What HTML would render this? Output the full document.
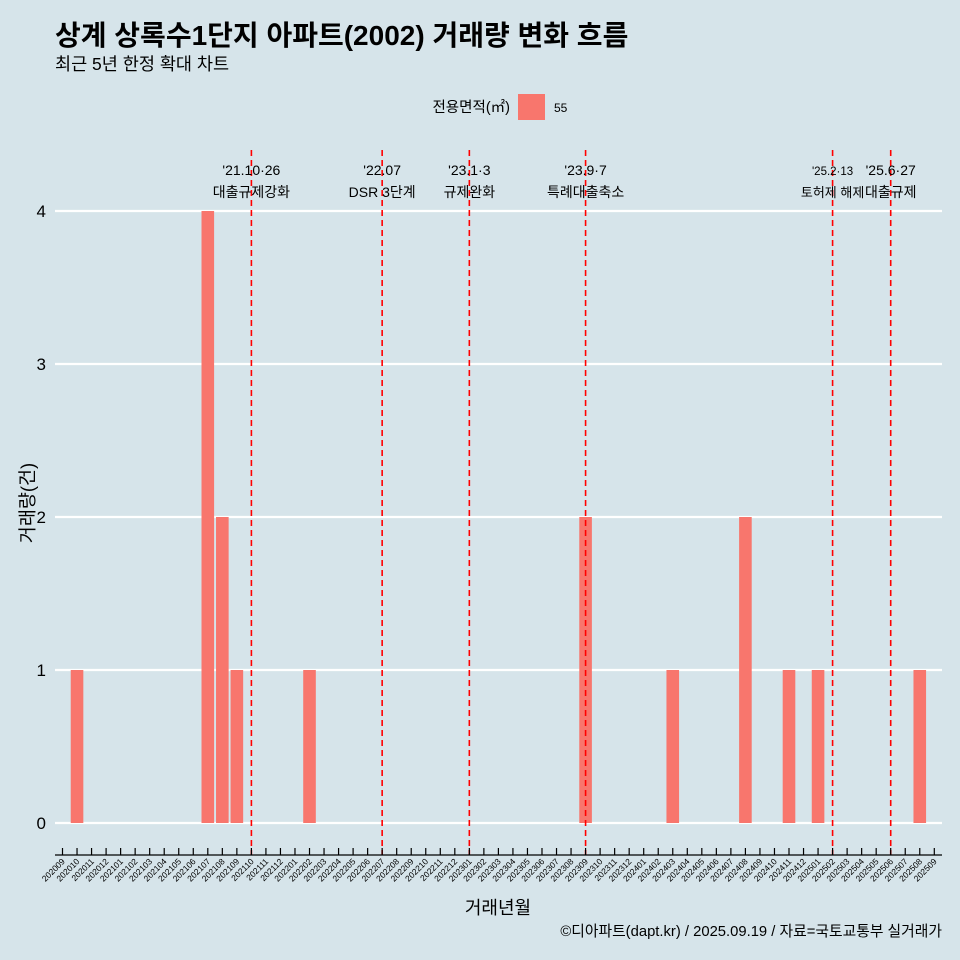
<!DOCTYPE html>
<html><head><meta charset="utf-8"><style>
body{margin:0;background:#d6e4ea;}
svg{display:block;font-family:"Liberation Sans","Noto Sans CJK KR",sans-serif;}
</style></head><body>
<svg width="960" height="960">
<rect width="960" height="960" fill="#d6e4ea"/>
<text x="55" y="45" font-size="28" font-weight="bold" fill="#000">상계 상록수1단지 아파트(2002) 거래량 변화 흐름</text>
<text x="55" y="70" font-size="17.5" fill="#000">최근 5년 한정 확대 차트</text>
<g>
<text x="510" y="112" font-size="14.5" text-anchor="end">전용면적(㎡)</text>
<rect x="518" y="94" width="27" height="26" fill="#f8766d"/>
<text x="554" y="112" font-size="12">55</text>
</g>
<g id="grid"></g><g id="bars"></g><g id="events"></g><g id="axes"></g>
<text x="34" y="503" font-size="18.5" text-anchor="middle" transform="rotate(-90 34 503)">거래량(건)</text>
<text x="498" y="914" font-size="18" text-anchor="middle">거래년월</text>
<text x="942" y="936" font-size="14.8" text-anchor="end">©디아파트(dapt.kr) / 2025.09.19 / 자료=국토교통부 실거래가</text>
</svg>
<script>
const months=[];for(let y=2020,m=9;y<2025||(y===2025&&m<=9);){months.push(y+String(m).padStart(2,'0'));m++;if(m>12){m=1;y++;}}
const barMonths=["202010","202107","202108","202109","202202","202309","202403","202408","202411","202501","202508"];
const barValues=[1,4,2,1,1,2,1,2,1,1,1];
const yTicks=[0,1,2,3,4];
const eventMonths=["202110","202207","202301","202309","202502","202506"];
const eventDates=["'21.10·26","'22.07","'23.1·3","'23.9·7","'25.2·13","'25.6·27"];
const eventNames=["대출규제강화","DSR 3단계","규제완화","특례대출축소","토허제 해제","대출규제"];
const NS="http://www.w3.org/2000/svg";
const x=m=>62.5+months.indexOf(m)*14.53;
const y=v=>823-v*153;
function mk(t,a,p,txt){const e=document.createElementNS(NS,t);for(const k in a)e.setAttribute(k,a[k]);if(txt!==undefined)e.textContent=txt;p.appendChild(e);return e;}
const G=document.getElementById('grid'),B=document.getElementById('bars'),E=document.getElementById('events'),A=document.getElementById('axes');
yTicks.forEach(v=>{
 const l=mk('line',{x1:55,x2:942,y1:y(v),y2:y(v),stroke:'#fff','stroke-width':2.2},G);
 
 
 const t=mk('text',{x:46,y:y(v)+6,'font-size':17,'text-anchor':'end'},A,String(v));
 
 
});
barMonths.forEach((m,i)=>{
 const r=mk('rect',{x:x(m)-6.3,y:y(barValues[i]),width:12.6,height:y(0)-y(barValues[i]),fill:'#f8766d'},B);
 
 
});
eventMonths.forEach((m,i)=>{
 const xx=x(m);
 const l=mk('line',{x1:xx,x2:xx,y1:150,y2:855,stroke:'#f00','stroke-width':1.6,'stroke-dasharray':'6,4'},E);
 
 
 const small=i===4;
 const fs=small?11.5:14;
 const t1=mk('text',{x:xx,y:175,'font-size':fs,'text-anchor':'middle'},E,eventDates[i]);
 
 
 const t2=mk('text',{x:xx,y:197,'font-size':small?13:14,'text-anchor':'middle'},E,eventNames[i]);
 
 
});
const ax=mk('line',{x1:55,x2:942,y1:855,y2:855,stroke:'#000','stroke-width':1.2},A);


months.forEach(m=>{
 const xx=x(m);
 const tk=mk('line',{x1:xx,x2:xx,y1:848,y2:855,stroke:'#000','stroke-width':1.2},A);
 
 
 const t=mk('text',{x:xx+3,y:862,'font-size':8.5,'text-anchor':'end',transform:`rotate(-45 ${xx+3} 862)`},A,m);
 
 
});
</script>
</body></html>
